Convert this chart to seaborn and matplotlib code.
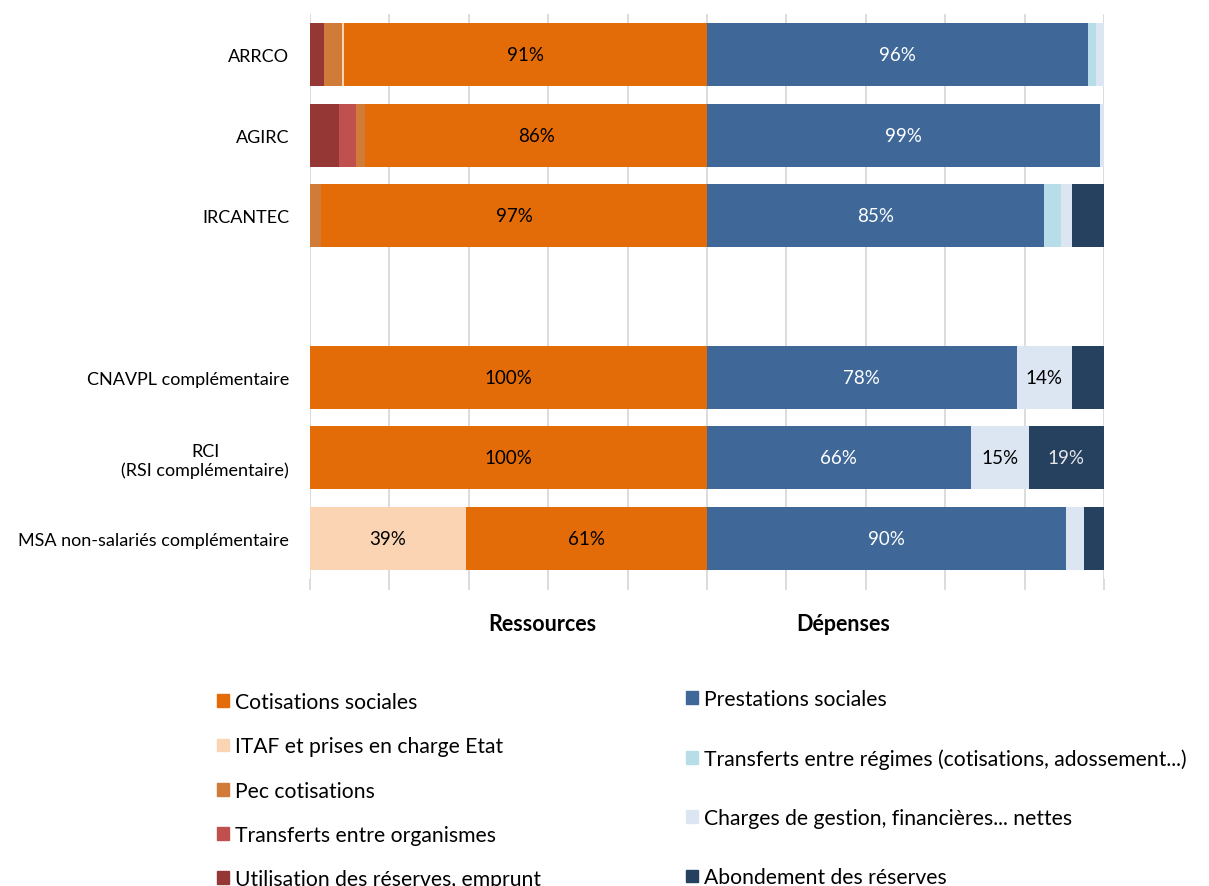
import numpy as np
import pandas as pd
import matplotlib.pyplot as plt
import seaborn as sns
from matplotlib.patches import Patch

plt.rcParams['font.family'] = ['Lato', 'DejaVu Sans']

# Categories (blank row separates the two groups)
categories = ["ARRCO", "AGIRC", "IRCANTEC", " ", "CNAVPL complémentaire",
              "RCI\n(RSI complémentaire)", "MSA non-salariés complémentaire"]

# Ressources (% of total), left to right
reserves = [3.5, 7.2, 0, 0, 0, 0, 0]
transferts_org = [0, 4.4, 0, 0, 0, 0, 0]
pec = [4.6, 2.3, 2.8, 0, 0, 0, 0]
itaf = [0.5, 0, 0, 0, 0, 0, 39.2]
cotisations = [91.4, 86.1, 97.2, 0, 100, 100, 60.8]

# Dépenses (% of total), left to right
prestations = [96.0, 99.0, 85.0, 0, 78.0, 66.4, 90.4]
transferts_reg = [2.0, 0, 4.3, 0, 0, 0, 0]
charges = [2.0, 1.0, 2.7, 0, 14.0, 14.7, 4.6]
abondement = [0, 0, 8.0, 0, 8.0, 18.9, 5.0]

df = pd.DataFrame({
    'cat': categories,
    'reserves': reserves, 'transferts_org': transferts_org, 'pec': pec,
    'itaf': itaf, 'cotisations': cotisations,
    'prestations': prestations, 'transferts_reg': transferts_reg,
    'charges': charges, 'abondement': abondement,
})

colors = {
    'cotisations': '#E36C09', 'itaf': '#FBD4B4', 'pec': '#D07B38',
    'transferts_org': '#C0504D', 'reserves': '#953735',
    'prestations': '#3F6899', 'transferts_reg': '#B7DEE8',
    'charges': '#DCE6F2', 'abondement': '#26405F',
}
text_colors = {
    'cotisations': 'black', 'itaf': 'black', 'pec': 'black',
    'transferts_org': 'white', 'reserves': 'white',
    'prestations': 'white', 'transferts_reg': 'black',
    'charges': 'black', 'abondement': '#e6e6e6',
}

# segments going outward from the centre line
res_order = ['cotisations', 'itaf', 'pec', 'transferts_org', 'reserves']
dep_order = ['prestations', 'transferts_reg', 'charges', 'abondement']

fig = plt.figure(figsize=(12.09, 8.87), dpi=100)
ax = fig.add_axes([0.2564, 0.3461, 0.6567, 0.637])
ax.set_axisbelow(True)

res_cum = df[res_order].cumsum(axis=1)
dep_cum = df[dep_order].cumsum(axis=1)

# draw outermost cumulative first so inner segments overlay it
for col in reversed(res_order):
    sns.barplot(x=-res_cum[col], y=df['cat'], order=categories, orient='h',
                color=colors[col], saturation=1, width=0.78, errorbar=None,
                linewidth=0, ax=ax)
for col in reversed(dep_order):
    sns.barplot(x=dep_cum[col], y=df['cat'], order=categories, orient='h',
                color=colors[col], saturation=1, width=0.78, errorbar=None,
                linewidth=0, ax=ax)

# value labels for the larger segments
for i in range(len(categories)):
    start = 0
    for col in res_order:
        v = df[col][i]
        if v >= 10:
            ax.text(-(start + v / 2), i, f"{v:.0f}%", ha='center', va='center',
                    fontsize=13.5, color=text_colors[col])
        start += v
    start = 0
    for col in dep_order:
        v = df[col][i]
        if v >= 10:
            ax.text(start + v / 2, i, f"{v:.0f}%", ha='center', va='center',
                    fontsize=13.5, color=text_colors[col])
        start += v

ax.set_xlim(-100, 100)
ax.set_ylim(6.5, -0.5)
ax.set_xticks(np.arange(-100, 101, 20))
ax.set_xticklabels([])
ax.grid(axis='x', color='#d9d9d9', linewidth=1.3)
ax.grid(axis='y', visible=False)
ax.tick_params(axis='x', length=8, color='#d9d9d9', width=1.3)
ax.tick_params(axis='y', length=0, pad=15, labelsize=13)
for lab in ax.get_yticklabels():
    lab.set_multialignment('center')
for s in ax.spines.values():
    s.set_visible(False)
ax.set_xlabel('')
ax.set_ylabel('')

fig.text(0.4483, 0.2954, 'Ressources', ha='center', va='center',
         fontsize=15.5, fontweight='bold')
fig.text(0.6973, 0.2954, 'Dépenses', ha='center', va='center',
         fontsize=15.5, fontweight='bold')

# legends
left_items = [('Cotisations sociales', 'cotisations'),
              ('ITAF et prises en charge Etat', 'itaf'),
              ('Pec cotisations', 'pec'),
              ('Transferts entre organismes', 'transferts_org'),
              ('Utilisation des réserves, emprunt', 'reserves')]
right_items = [('Prestations sociales', 'prestations'),
               ('Transferts entre régimes (cotisations, adossement...)', 'transferts_reg'),
               ('Charges de gestion, financières... nettes', 'charges'),
               ('Abondement des réserves', 'abondement')]

leg1 = fig.legend(handles=[Patch(color=colors[k], label=l) for l, k in left_items],
                  loc='upper left', bbox_to_anchor=(0.171, 0.2305), frameon=False,
                  fontsize=15.2, handlelength=0.55, handleheight=0.55,
                  handletextpad=0.3, labelspacing=1.15, borderpad=0)
leg2 = fig.legend(handles=[Patch(color=colors[k], label=l) for l, k in right_items],
                  loc='upper left', bbox_to_anchor=(0.559, 0.234), frameon=False,
                  fontsize=15.2, handlelength=0.55, handleheight=0.55,
                  handletextpad=0.3, labelspacing=1.86, borderpad=0)

fig.savefig('out.png', dpi=100)
